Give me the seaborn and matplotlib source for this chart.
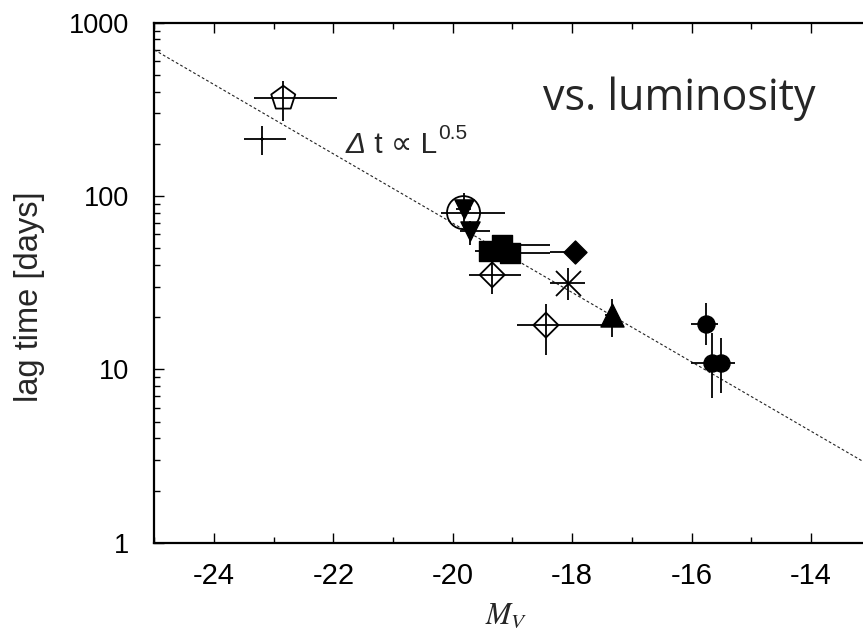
import numpy as np
import pandas as pd
import matplotlib
matplotlib.use("Agg")
import matplotlib.pyplot as plt
import seaborn as sns
from matplotlib.ticker import FixedLocator, NullFormatter, LogLocator

# ---------------- data ----------------
kind = ["pentagon", "plus", "circle_open", "tri_down", "tri_down",
        "square", "square", "square", "diamond", "diamond_open",
        "asterisk", "diamond_open", "tri_up", "dot", "dot", "dot"]
mv = [-22.84, -23.19, -19.82, -19.82, -19.71,
      -19.39, -19.17, -19.04, -17.96, -19.34,
      -18.07, -18.44, -17.34, -15.76, -15.65, -15.50]
lag = [366, 213, 80.2, 84.3, 62.9,
       48.0, 52.4, 46.7, 47.8, 35.1,
       31.6, 18.0, 20.6, 18.2, 10.9, 10.9]
mv_lo = [-23.33, -23.49, -20.19, -19.95, -19.88,
         -19.63, -19.50, -19.30, -18.38, -19.73,
         -18.37, -18.93, -17.45, -16.01, -16.01, -15.75]
mv_hi = [-21.94, -22.80, -19.13, -19.70, -19.38,
         -19.20, -18.38, -18.38, -17.85, -18.85,
         -17.78, -17.45, -17.24, -15.55, -15.55, -15.27]
lag_lo = [270, 173, 70, 75, 52,
          44, 48, 43, 44, 27.2,
          25.2, 12.1, 15.3, 13.8, 6.8, 7.3]
lag_hi = [461, 255, 104, 95, 72,
          52, 57, 51, 52, 41.7,
          38.3, 23.8, 25.6, 24.3, 16.2, 15.1]

fit_norm = 697.0      # lag time at M_V = -25
fit_index = 0.5       # lag ∝ L^0.5
x_ticks = [-24, -22, -20, -18, -16, -14]
y_ticks = [1, 10, 100, 1000]
y_tick_labels = ["1", "10", "100", "1000"]

df = pd.DataFrame(dict(kind=kind, mv=mv, lag=lag, mv_lo=mv_lo, mv_hi=mv_hi,
                       lag_lo=lag_lo, lag_hi=lag_hi))

# ---------------- style ----------------
sns.set_theme(style="ticks")
plt.rcParams["font.family"] = ["Liberation Sans", "DejaVu Sans"]

styles = {
    "pentagon":     dict(marker="p", s=330, fc="none", ec="black", lw=1.3),
    "plus":         dict(marker="+", s=10, fc="black", ec="black", lw=1.3),
    "circle_open":  dict(marker="o", s=566, fc="none", ec="black", lw=1.3),
    "tri_down":     dict(marker="v", s=190, fc="black", ec="black", lw=1.0),
    "square":       dict(marker="s", s=228, fc="black", ec="black", lw=1.0),
    "diamond":      dict(marker="D", s=137, fc="black", ec="black", lw=1.0),
    "diamond_open": dict(marker="D", s=162, fc="none", ec="black", lw=1.3),
    "asterisk":     dict(marker="x", s=324, fc="black", ec="black", lw=1.3),
    "tri_up":       dict(marker="^", s=275, fc="black", ec="black", lw=1.0),
    "dot":          dict(marker="o", s=150, fc="black", ec="black", lw=1.0),
}

fig = plt.figure(figsize=(8.63, 6.34), dpi=100)
ax = fig.add_axes([0.1788, 0.1440, 0.8301, 0.8202])
ax.set_yscale("log")

# fit line
xl = np.linspace(-25, -13, 50)
yl = fit_norm * 10 ** (-0.4 * fit_index * (xl + 25))
sns.lineplot(x=xl, y=yl, ax=ax, color="#222222", lw=0.8,
             dashes=False, linestyle=(0, (2.5, 2)), zorder=1)

# error bars
ax.errorbar(df.mv, df.lag,
            xerr=[df.mv - df.mv_lo, df.mv_hi - df.mv],
            yerr=[df.lag - df.lag_lo, df.lag_hi - df.lag],
            fmt="none", ecolor="black", elinewidth=1.3, capsize=0, zorder=2)

# markers
for k, sub in df.groupby("kind", sort=False):
    st = styles[k]
    if st["marker"] in ("x", "+"):
        sns.scatterplot(data=sub, x="mv", y="lag", ax=ax, marker=st["marker"],
                        s=st["s"], color="black", linewidth=st["lw"], zorder=3,
                        legend=False)
    else:
        sns.scatterplot(data=sub, x="mv", y="lag", ax=ax, marker=st["marker"],
                        s=st["s"], facecolor=st["fc"], edgecolor=st["ec"],
                        linewidth=st["lw"], zorder=3, legend=False)

ax.set_xlim(-25, -13)
ax.set_ylim(1, 1000)
ax.set_xticks(x_ticks)
ax.set_xticklabels([str(t) for t in x_ticks], fontsize=21)
ax.xaxis.set_minor_locator(FixedLocator([-25, -23, -21, -19, -17, -15, -13]))
ax.set_yticks(y_ticks)
ax.set_yticklabels(y_tick_labels, fontsize=19.5)
ax.yaxis.set_minor_locator(LogLocator(base=10, subs=np.arange(2, 10)))
ax.yaxis.set_minor_formatter(NullFormatter())

ax.tick_params(which="both", direction="in", top=True, right=False,
               width=1.0, colors="black")
ax.tick_params(which="major", length=7)
ax.tick_params(which="minor", length=4)
ax.tick_params(axis="y", which="major", pad=18)
ax.tick_params(axis="x", which="major", pad=14)
for sp in ax.spines.values():
    sp.set_linewidth(1.6)
    sp.set_color("black")

ax.set_xlabel("$M_V$", fontsize=22, math_fontfamily="stix")
ax.xaxis.set_label_coords(0.491, -0.112)
ax.set_ylabel("lag time [days]", fontsize=23.5)
ax.yaxis.set_label_coords(-0.1526, 0.4725)

# annotation  "Δt ∝ L^0.5"
fam = ["Liberation Sans", "DejaVu Sans"]
t1 = ax.text(346, 634 - 153, "Δ", transform=None, fontsize=21.5,
             style="italic", ha="left", va="baseline", family=fam)
t2 = ax.annotate(" t ∝ L", xy=(1, 0), xycoords=t1, fontsize=21.5,
                 ha="left", va="bottom", family=fam)
ax.annotate("0.5", xy=(1, 0), xycoords=t2, xytext=(1, 11.2),
            textcoords="offset points", fontsize=15,
            ha="left", va="bottom", family=fam)

fig.text(543 / 863, 1 - 110 / 634, "vs. luminosity", fontsize=31,
         family=["Open Sans", "DejaVu Sans"], ha="left", va="baseline")

fig.savefig("out.png", dpi=100)
